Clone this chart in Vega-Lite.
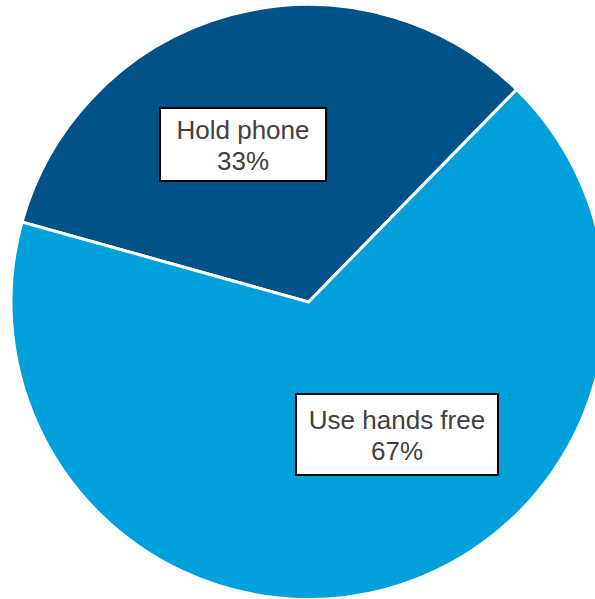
{
  "$schema": "https://vega.github.io/schema/vega-lite/v6.json",
  "width": 595,
  "height": 599,
  "autosize": "none",
  "padding": {"left": 11, "top": 2.5, "right": -11, "bottom": -2.5},
  "background": "white",
  "config": {"view": {"stroke": null}},
  "data": {"values": [
    {"slice": "Hold phone", "share": 33},
    {"slice": "Use hands free", "share": 67}
  ]},
  "transform": [{"calculate": "datum.slice + '\\n' + datum.share + '%'", "as": "label"}],
  "layer": [
    {
      "mark": {"type": "arc", "outerRadius": 297.5, "stroke": "white", "strokeWidth": 3},
      "encoding": {
        "theta": {"field": "share", "type": "quantitative", "stack": true, "scale": {"range": [-1.2985, 4.9847]}},
        "color": {"field": "slice", "type": "nominal", "scale": {"domain": ["Hold phone", "Use hands free"], "range": ["#015289", "#00A0DD"]}, "legend": null}
      }
    },
    {
      "mark": {"type": "point", "filled": true, "fill": "white", "stroke": "black", "strokeWidth": 2, "size": 40000, "opacity": 1},
      "encoding": {
        "shape": {"field": "slice", "type": "nominal", "scale": {"domain": ["Hold phone", "Use hands free"], "range": ["M-1.485,-1.94H0.175V-1.21H-1.485Z", "M-0.125,0.92H1.895V1.73H-0.125Z"]}, "legend": null}
      }
    },
    {
      "transform": [{"filter": "datum.slice === 'Hold phone'"}],
      "mark": {"type": "text", "font": "Liberation Sans", "fontSize": 26, "color": "#404040", "align": "center", "baseline": "alphabetic", "lineBreak": "\n", "lineHeight": 31, "dx": -65.5, "dy": -163},
      "encoding": {"text": {"field": "label", "type": "nominal"}}
    },
    {
      "transform": [{"filter": "datum.slice === 'Use hands free'"}],
      "mark": {"type": "text", "font": "Liberation Sans", "fontSize": 26, "color": "#404040", "align": "center", "baseline": "alphabetic", "lineBreak": "\n", "lineHeight": 31, "dx": 88.5, "dy": 126.5},
      "encoding": {"text": {"field": "label", "type": "nominal"}}
    }
  ]
}
